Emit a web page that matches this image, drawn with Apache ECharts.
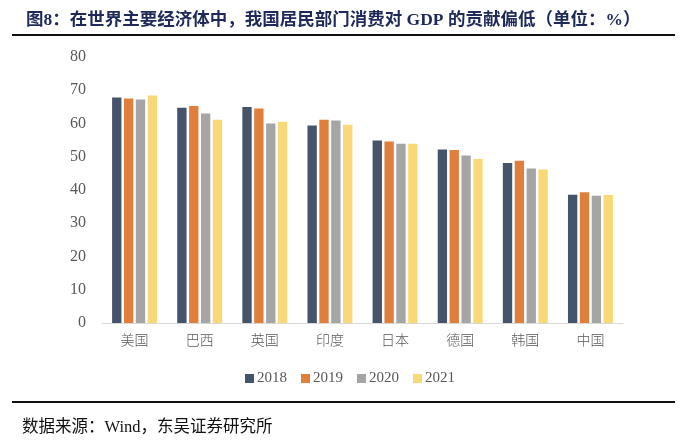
<!DOCTYPE html>
<html><head><meta charset="utf-8">
<script src="https://cdn.jsdelivr.net/npm/echarts@6/dist/echarts.min.js"></script>
<style>html,body{margin:0;padding:0;background:#fff}#c{width:700px;height:448px}</style>
</head><body><div id="c"></div>
<script>
const categories = ['美国','巴西','英国','印度','日本','德国','韩国','中国'];
const years = ['2018','2019','2020','2021'];
const v2018 = [67.8, 64.7, 65.0, 59.4, 54.9, 52.2, 48.1, 38.6];
const v2019 = [67.5, 65.3, 64.5, 61.1, 54.6, 52.0, 48.8, 39.3];
const v2020 = [67.2, 63.0, 60.0, 60.9, 53.9, 50.4, 46.5, 38.3];
const v2021 = [68.4, 61.1, 60.5, 59.6, 53.9, 49.3, 46.2, 38.5];
const yTicks = [0,10,20,30,40,50,60,70,80];
const colors = ['#44546a','#e07e3c','#a5a5a5','#f9d877'];
const seriesVals = [v2018, v2019, v2020, v2021];

const chart = echarts.init(document.getElementById('c'), null, {renderer:'canvas'});
chart.setOption({
  animation:false,
  color: colors,
  title:{
    text:'图8：在世界主要经济体中，我国居民部门消费对 GDP 的贡献偏低（单位：%）',
    left:21, top:7,
    textStyle:{fontFamily:'"Liberation Serif","Noto Sans CJK SC"',fontSize:17.5,fontWeight:'bold',color:'#1f2a5a'}
  },
  graphic:[
    {type:'line',shape:{x1:12,y1:35,x2:675,y2:35},style:{stroke:'#111',lineWidth:2}},
    {type:'line',shape:{x1:12,y1:402,x2:675,y2:402},style:{stroke:'#111',lineWidth:2}},
    {type:'text',left:22,top:419,style:{text:'数据来源：Wind，东吴证券研究所',font:'16.5px "Liberation Serif","Noto Sans CJK SC"',fill:'#111'}}
  ],
  legend:{
    data:years, bottom:57, left:'center',
    itemWidth:9, itemHeight:9, itemGap:14, icon:'rect',
    textStyle:{fontFamily:'"Liberation Serif"',fontSize:15,color:'#595959',padding:[0,0,0,-2]}
  },
  grid:{left:102,right:77,top:57,bottom:125},
  xAxis:{
    type:'category', data:categories,
    axisLine:{lineStyle:{color:'#d9d9d9',width:1}},
    axisTick:{show:false},
    axisLabel:{fontFamily:'"Noto Sans CJK SC"',fontSize:14,color:'#595959',margin:10,fontWeight:300}
  },
  yAxis:{
    type:'value', min:0, max:80, interval:10,
    splitLine:{show:false},
    axisLine:{show:false}, axisTick:{show:false},
    axisLabel:{fontFamily:'"Liberation Serif"',fontSize:16,color:'#595959',margin:16,
      formatter:(v)=> yTicks.includes(v) ? String(v) : ''}
  },
  series: years.map((y,i)=>({
    name:y, type:'bar', data:seriesVals[i],
    barGap:'27%', barCategoryGap:'31%'
  }))
});
</script></body></html>
